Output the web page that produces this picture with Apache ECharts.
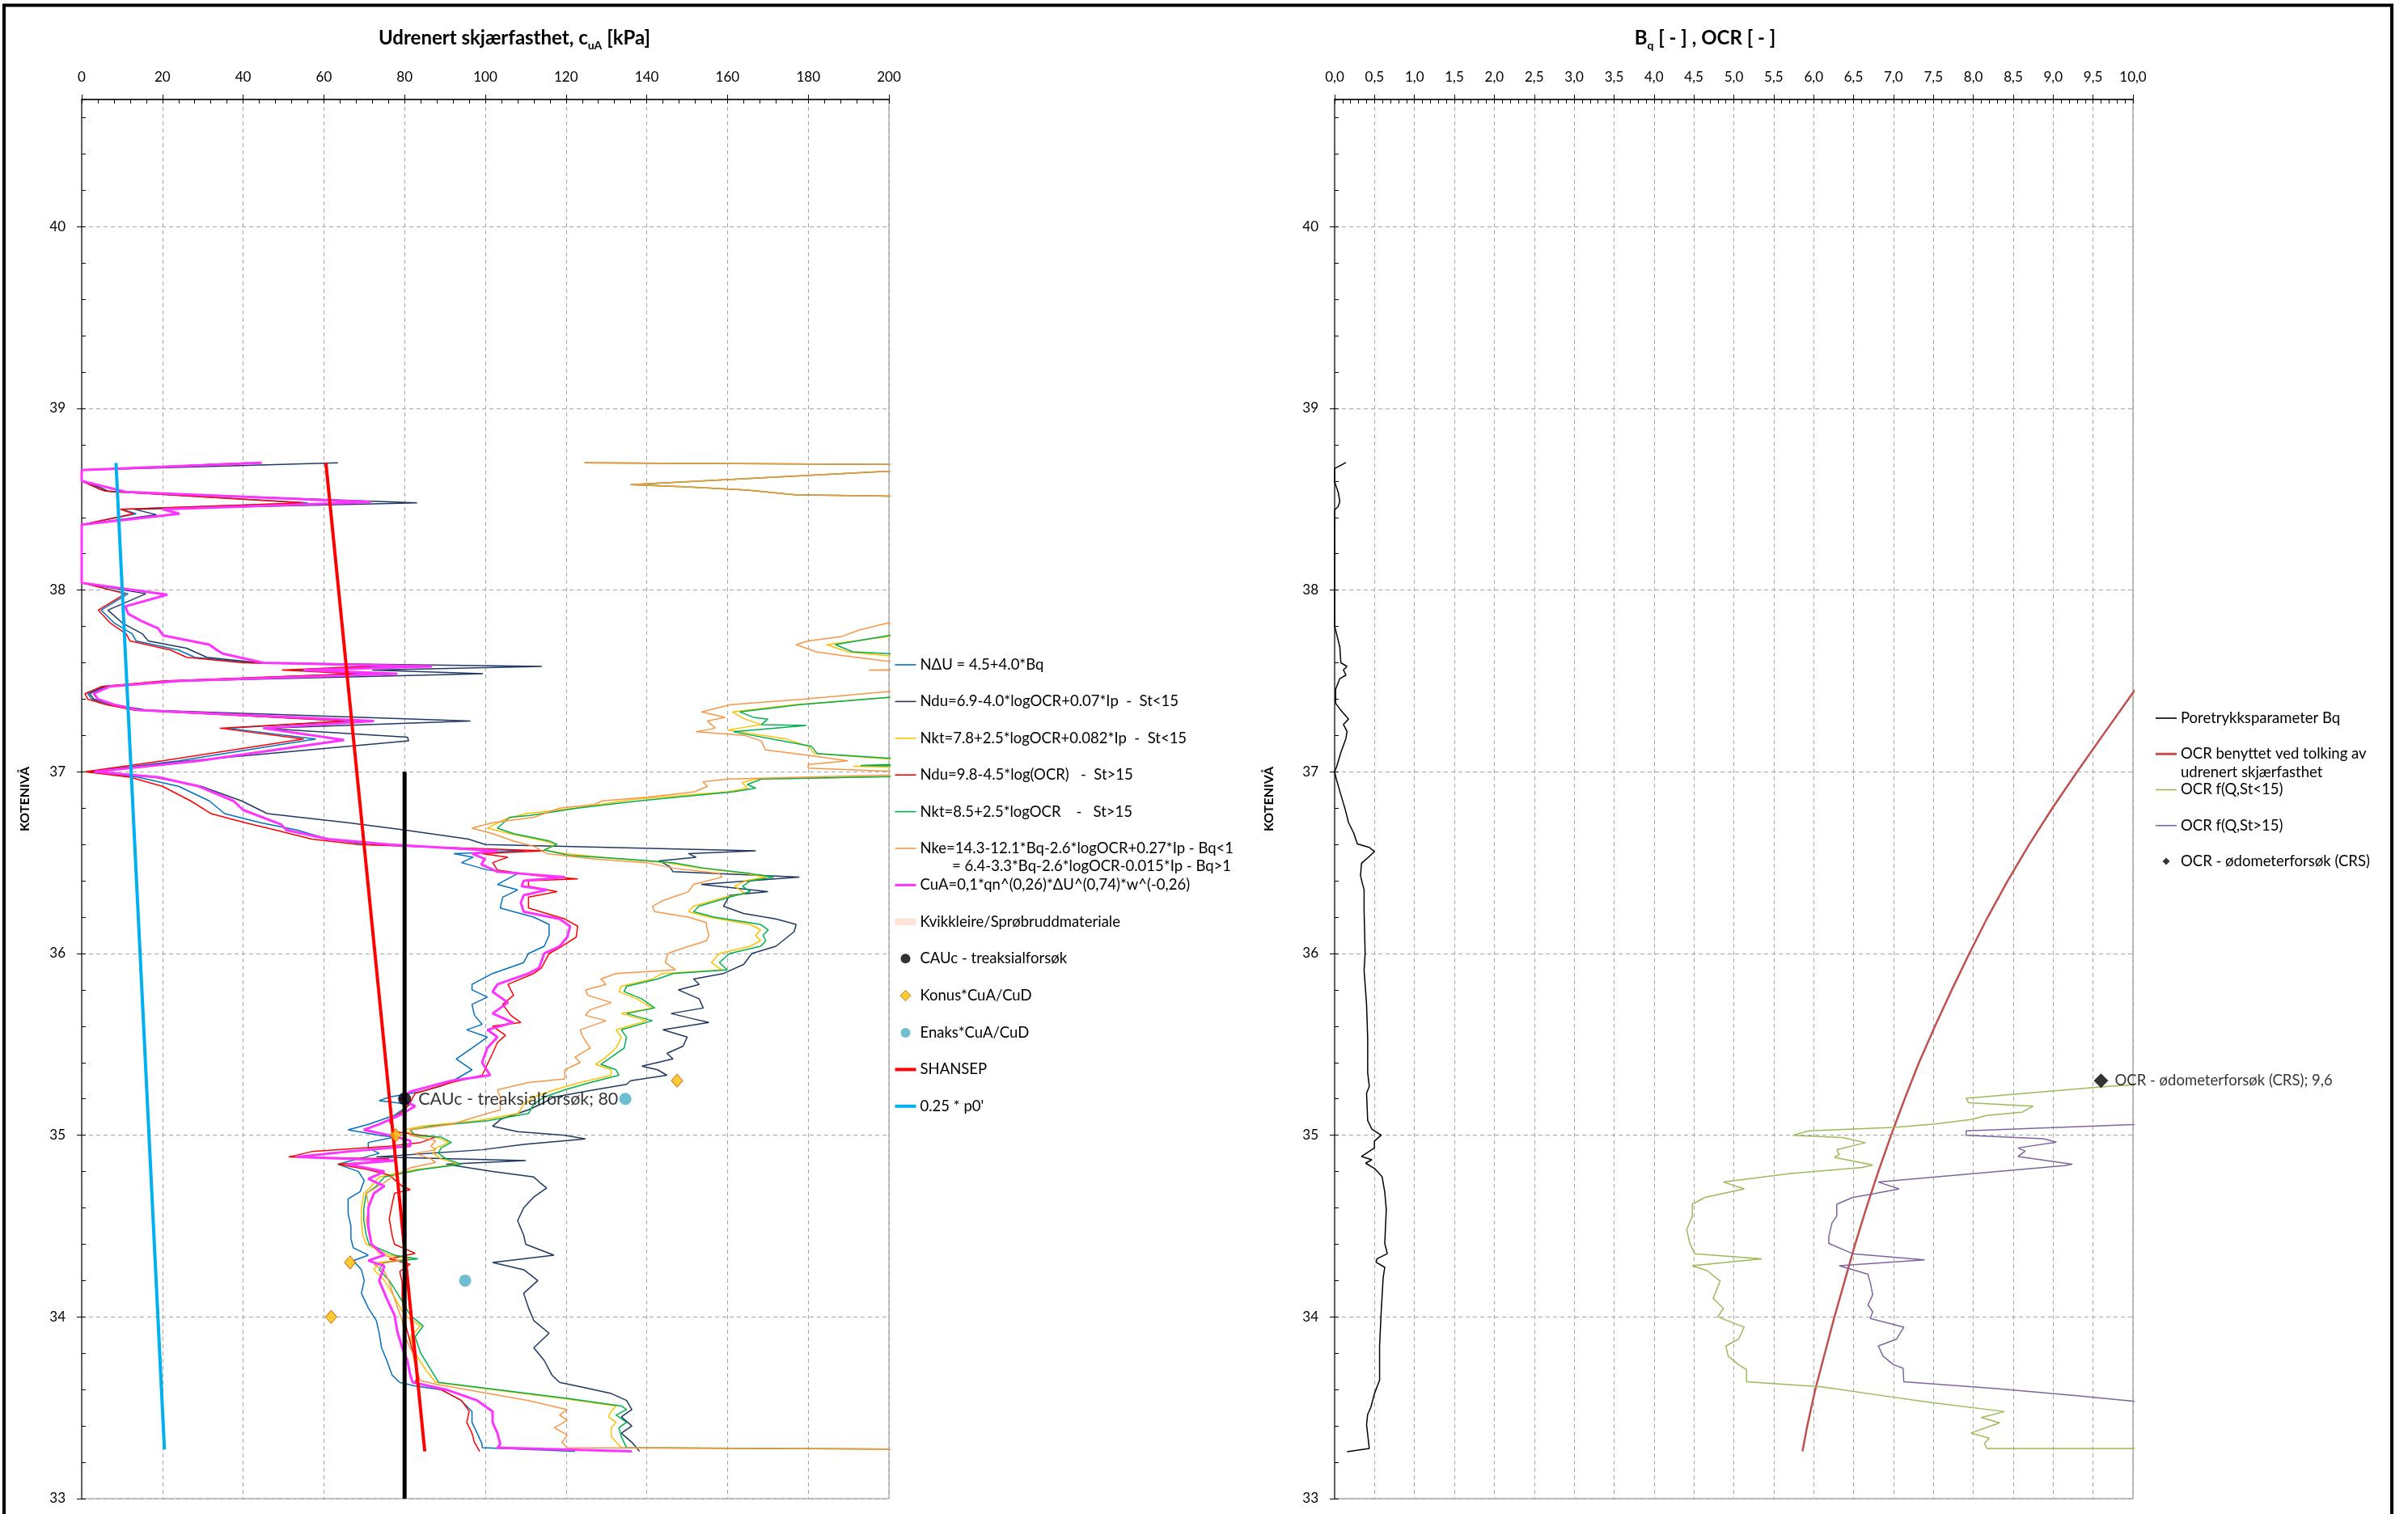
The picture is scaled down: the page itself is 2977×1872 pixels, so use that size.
<!DOCTYPE html>
<html>
<head>
<meta charset="utf-8">
<script src="https://cdn.jsdelivr.net/npm/echarts@6.0.0/dist/echarts.min.js"></script>
<style>
  html, body { margin: 0; padding: 0; background: #fff; }
  #chart { width: 2977px; height: 1872px; }
</style>
</head>
<body>
<div id="chart"></div>
<script>
// ---------- axis ranges ----------
const cuRange = { min: 0, max: 200, step: 20, minorStep: 4 };
const bqRange = { min: 0, max: 10, step: 0.5, minorStep: 0.1 };
const koteRange = { min: 33, max: 40.7, step: 1, minorStep: 0.2 };

// ---------- left panel: undrained shear strength [kPa] vs level ----------
// each point is [cuA, kotenivå]
const nDeltaU = [[43,38.70],[0,38.66],[0,38.60],[4.5,38.555],[6,38.545],[56,38.48],[10,38.445],[13.5,38.42],[0,38.36],[0,38.04],[11.5,37.98],[4.8,37.89],[8,37.82],[12.5,37.76],[13.5,37.72],[24,37.67],[26,37.65],[28,37.63],[42,37.60],[80,37.585],[52,37.56],[69.4,37.54],[22,37.50],[5.5,37.47],[1.5,37.43],[2.5,37.40],[7,37.37],[14,37.34],[66.4,37.28],[36,37.24],[58,37.18],[24,37.06],[1.5,37.0],[14,36.97],[24,36.92],[31.6,36.84],[35.4,36.77],[44.3,36.72],[53.3,36.68],[61,36.63],[71,36.60],[110,36.565],[92.2,36.55],[97,36.53],[94.1,36.50],[100.5,36.46],[108,36.44],[103,36.38],[108,36.35],[104.3,36.31],[103.7,36.25],[112,36.20],[115.8,36.16],[115.8,36.10],[114.6,36.04],[110.7,36.0],[109.5,35.95],[101.8,35.89],[96.7,35.83],[96.7,35.80],[100.5,35.76],[96.7,35.72],[97.3,35.66],[99.2,35.61],[95.4,35.58],[100.5,35.54],[96.7,35.48],[92.8,35.42],[96.7,35.36],[92.8,35.31],[89,35.27],[84,35.24],[76.2,35.21],[73.7,35.19],[81.4,35.17],[77.5,35.11],[71,35.06],[66,35.03],[73.7,35.0],[77.5,34.99],[71,34.96],[71,34.93],[73.7,34.90],[63.5,34.84],[68.6,34.80],[70,34.75],[69,34.69],[66,34.65],[66,34.57],[66.7,34.50],[66.7,34.43],[67.3,34.38],[71,34.34],[67.3,34.31],[69.3,34.26],[70,34.20],[69.3,34.13],[71,34.05],[73,33.98],[73.7,33.91],[74.3,33.83],[75.6,33.76],[76.9,33.68],[78.8,33.64],[82.6,33.62],[89,33.60],[94,33.54],[96.7,33.48],[96.7,33.42],[98,33.36],[99.2,33.30],[99.2,33.28],[122.2,33.26]];

const nduSt15Low = [[63.5,38.70],[0,38.66],[0,38.60],[5,38.56],[6.5,38.545],[9,38.54],[83.1,38.48],[13,38.445],[18.5,38.415],[0,38.36],[0,38.04],[15.9,37.98],[6.5,37.89],[10,37.82],[15,37.76],[16.5,37.72],[26,37.68],[28,37.66],[31,37.63],[44,37.60],[114,37.58],[72,37.56],[99.4,37.54],[25,37.50],[6,37.47],[2,37.43],[3,37.40],[8,37.37],[16,37.34],[96.3,37.28],[45,37.24],[80.7,37.19],[81,37.17],[26.5,37.06],[1.5,37.0],[18,36.97],[29.6,36.92],[39.6,36.84],[46,36.77],[66,36.72],[80,36.68],[95.8,36.63],[100,36.60],[167,36.565],[150.3,36.55],[152.2,36.53],[143,36.51],[145.6,36.48],[146.5,36.45],[177.8,36.42],[153.5,36.38],[170,36.34],[160.5,36.32],[159,36.26],[164,36.22],[172,36.19],[177,36.16],[176.5,36.12],[172,36.04],[166,36.0],[164,35.94],[159,35.89],[151.6,35.86],[153,35.83],[147.8,35.80],[153,35.75],[154,35.70],[146,35.67],[151.6,35.64],[155.4,35.62],[144,35.58],[150,35.54],[149,35.49],[145,35.45],[146.5,35.42],[138.8,35.38],[142.7,35.36],[145,35.33],[136,35.30],[135,35.28],[127,35.25],[117,35.21],[114.6,35.18],[110.7,35.14],[104,35.09],[101.8,35.05],[108,35.02],[119.7,35.0],[124.8,34.98],[109.5,34.95],[99.2,34.92],[73,34.88],[110,34.86],[90.3,34.84],[101.8,34.80],[112,34.77],[113.5,34.74],[115.2,34.71],[112,34.66],[109.5,34.60],[108,34.53],[109.5,34.45],[110,34.40],[117,34.34],[101.8,34.30],[109.5,34.26],[113,34.20],[109.5,34.13],[110.7,34.05],[112,33.98],[115.8,33.91],[112,33.83],[114.6,33.76],[116.5,33.68],[118.4,33.64],[124.8,33.61],[131,33.58],[135,33.54],[136.3,33.49],[133.7,33.45],[136.3,33.40],[133.7,33.36],[136.3,33.31],[138.2,33.26]];

const nktSt15Low = [[124.6,38.70],[215,38.69],[215,38.672],[136,38.58],[150,38.568],[165,38.55],[176.7,38.525],[215,38.512],[320,38.3],[320,37.9],[215,37.76],[200,37.745],[184.6,37.70],[189.8,37.66],[199,37.64],[215,37.63],[320,37.5],[215,37.42],[200,37.41],[176.7,37.37],[161.2,37.33],[164.3,37.29],[168.4,37.26],[160.1,37.23],[174.6,37.18],[180.1,37.14],[181.5,37.10],[200,37.07],[215,37.06],[215,37.04],[191.2,37.03],[215,37.02],[215,36.98],[167,36.96],[163.6,36.94],[165,36.91],[160,36.89],[137.4,36.85],[122.2,36.80],[110,36.77],[105,36.74],[100.5,36.69],[106,36.66],[114.6,36.62],[117.5,36.60],[114.6,36.57],[119.7,36.55],[133.7,36.52],[145,36.50],[152.9,36.47],[164.4,36.44],[169.5,36.42],[164.4,36.40],[161.8,36.37],[164.4,36.33],[159.3,36.31],[151.6,36.26],[150.3,36.23],[155.4,36.20],[165.6,36.16],[168.2,36.13],[167,36.10],[168.2,36.07],[165.6,36.04],[158,36.0],[156,35.95],[158.6,35.91],[143.9,35.89],[141.4,35.86],[133.7,35.82],[133.1,35.79],[137.6,35.75],[141.4,35.70],[133.7,35.67],[140,35.63],[132.4,35.58],[133.7,35.54],[132.4,35.48],[129.9,35.43],[127.3,35.39],[131.2,35.36],[131.2,35.33],[123.5,35.29],[117.1,35.25],[112,35.21],[109.5,35.17],[108.2,35.12],[98,35.08],[84,35.05],[80,35.03],[81.4,35.0],[87.7,34.99],[91,34.96],[87.7,34.93],[87.1,34.90],[89,34.87],[93.5,34.84],[82.6,34.81],[73.7,34.77],[71.8,34.72],[69.9,34.68],[69.3,34.60],[69.3,34.53],[69.6,34.45],[70.5,34.40],[76.2,34.34],[81.4,34.32],[73.7,34.30],[72.4,34.26],[75,34.20],[76.9,34.13],[80,34.01],[83.9,33.95],[81.4,33.89],[82.6,33.80],[85.2,33.71],[87.7,33.64],[101.8,33.60],[119.7,33.55],[132.4,33.51],[131.2,33.48],[130.5,33.45],[132.4,33.42],[131.2,33.39],[131.2,33.34],[133.7,33.28],[230,33.27]];

const nduSt15High = [[41,38.70],[0,38.66],[0,38.60],[4.5,38.555],[6,38.545],[55,38.48],[9.5,38.445],[12.8,38.42],[0,38.36],[0,38.04],[10.8,37.98],[4.1,37.89],[7,37.82],[11,37.76],[12,37.72],[22,37.67],[24,37.65],[26,37.63],[40,37.60],[76,37.585],[49.6,37.56],[67.7,37.54],[20,37.50],[5,37.47],[0.8,37.43],[1.5,37.40],[6,37.37],[13,37.34],[65.4,37.28],[34.2,37.24],[55,37.18],[20,37.06],[0.8,37.0],[12,36.97],[20,36.92],[27,36.84],[32,36.77],[40.5,36.72],[48,36.68],[57,36.63],[68.6,36.60],[114.6,36.565],[99.2,36.55],[105.6,36.53],[101.8,36.50],[103,36.46],[112,36.43],[122.9,36.41],[110.7,36.40],[110.7,36.37],[117.8,36.34],[110.7,36.31],[110.7,36.25],[119.7,36.19],[122.9,36.15],[122.5,36.09],[119,36.04],[115.8,36.0],[113.9,35.92],[112,35.89],[105.6,35.83],[107,35.77],[104.3,35.72],[106.3,35.66],[108.8,35.62],[101.8,35.60],[105,35.55],[103,35.51],[101.8,35.45],[100.5,35.39],[99.2,35.33],[91.6,35.29],[82.6,35.23],[81.4,35.18],[80,35.14],[76.2,35.08],[77.5,35.02],[87.7,34.99],[84,34.96],[76.2,34.94],[57,34.91],[51.3,34.88],[76.2,34.87],[71,34.85],[63.5,34.84],[71,34.81],[76.2,34.78],[79.4,34.72],[81.4,34.70],[77.5,34.68],[76.9,34.62],[76.2,34.54],[76.9,34.45],[77.5,34.40],[82.6,34.35],[76.2,34.32],[81.4,34.29],[78.8,34.25],[79.4,34.19],[79.4,34.10],[80,33.98],[81.4,33.86],[82.6,33.76],[83.3,33.68],[82.6,33.64],[89,33.60],[94.1,33.54],[96,33.48],[95.4,33.42],[96.7,33.36],[97.3,33.31],[98.6,33.26]];

const nktSt15High = [[124.6,38.70],[215,38.69],[215,38.672],[136,38.58],[150,38.568],[165,38.55],[176.7,38.525],[215,38.512],[320,38.3],[320,37.9],[215,37.76],[200,37.75],[186.7,37.70],[191,37.66],[200,37.65],[215,37.64],[320,37.5],[215,37.42],[200,37.41],[178,37.37],[163,37.33],[166.4,37.30],[170,37.29],[168.4,37.26],[179.5,37.255],[161.5,37.22],[175.9,37.16],[180.8,37.14],[182.2,37.10],[200,37.075],[215,37.07],[215,37.05],[193,37.035],[215,37.03],[215,36.98],[168.4,36.96],[164.9,36.93],[167,36.91],[161.5,36.89],[138,36.84],[122.8,36.80],[111,36.76],[106,36.75],[103,36.69],[107,36.66],[115.8,36.62],[117.8,36.60],[114.6,36.57],[120.9,36.54],[135,36.52],[146.5,36.50],[154.2,36.47],[165.7,36.44],[171.4,36.42],[165.7,36.40],[163.7,36.37],[165.7,36.34],[160.5,36.31],[152.9,36.26],[151.6,36.23],[156.7,36.20],[168.2,36.16],[170.1,36.13],[168.8,36.10],[169.5,36.07],[168.2,36.04],[160.5,36.0],[158,35.95],[159.9,35.91],[146.5,35.89],[142.7,35.86],[135,35.82],[134.4,35.79],[138.8,35.75],[142,35.70],[135,35.67],[141.4,35.63],[133.7,35.58],[135,35.54],[134.4,35.48],[131.2,35.43],[128.6,35.39],[132.4,35.36],[133.1,35.33],[126,35.29],[119.7,35.25],[114.6,35.21],[112,35.17],[110.7,35.12],[100.5,35.08],[86.5,35.05],[81.4,35.03],[82.6,35.0],[89,34.99],[91.6,34.96],[89,34.93],[88.4,34.90],[90.3,34.87],[94.1,34.84],[83.9,34.81],[75,34.77],[73,34.72],[70.5,34.68],[69.9,34.60],[69.9,34.53],[70.5,34.45],[71.2,34.40],[77.5,34.34],[83.3,34.32],[75,34.30],[73.7,34.26],[76.2,34.20],[78.2,34.13],[81.4,34.01],[84.6,33.95],[82.6,33.89],[84,33.80],[86.5,33.71],[88.4,33.64],[103,33.60],[121,33.55],[133.7,33.51],[135,33.49],[132.4,33.46],[135,33.42],[133.1,33.39],[133.7,33.34],[135,33.28],[230,33.27]];

const nke = [[124.6,38.70],[215,38.69],[215,38.672],[136,38.58],[150,38.568],[165,38.55],[176.7,38.525],[215,38.512],[320,38.3],[320,37.9],[215,37.83],[200,37.82],[192.6,37.78],[188.4,37.745],[180,37.72],[177,37.70],[182,37.66],[188.4,37.64],[199,37.61],[215,37.60],[215,37.565],[195,37.56],[215,37.555],[320,37.5],[215,37.445],[198.8,37.44],[178.8,37.40],[160.8,37.37],[153.6,37.33],[159.4,37.30],[155,37.28],[157,37.24],[152.2,37.22],[164.3,37.20],[168.4,37.17],[169.4,37.12],[180.1,37.09],[189.8,37.06],[180,37.04],[180,37.02],[215,36.99],[215,36.985],[160.1,36.96],[153.9,36.945],[155,36.92],[151.9,36.89],[140.1,36.86],[129,36.84],[127,36.82],[118.4,36.80],[112,36.75],[101.8,36.72],[96.7,36.69],[101.8,36.66],[106.9,36.62],[112,36.59],[115.2,36.55],[127.3,36.52],[140,36.50],[146.5,36.47],[158,36.44],[158.6,36.42],[151.6,36.38],[150.3,36.34],[143.9,36.29],[141.4,36.26],[142,36.23],[150.3,36.20],[154.8,36.17],[154.8,36.15],[155.4,36.10],[154.8,36.07],[149,36.03],[145.2,36.0],[144.6,35.95],[147.1,35.91],[132.4,35.89],[128.6,35.86],[129.9,35.83],[124.8,35.80],[125.4,35.77],[131.2,35.73],[126,35.69],[124.8,35.66],[129.9,35.63],[123.5,35.58],[124.2,35.54],[126,35.48],[122.2,35.43],[123.5,35.40],[119.7,35.36],[119.7,35.31],[110.7,35.29],[103,35.25],[103.7,35.21],[103.7,35.14],[100.5,35.12],[91.6,35.06],[81.4,35.03],[81.4,35.0],[87.7,34.97],[86.5,34.94],[87.7,34.92],[82.6,34.90],[86.5,34.87],[87.7,34.85],[81.4,34.82],[77.5,34.78],[75,34.74],[70.5,34.68],[71.2,34.60],[70.5,34.53],[71.2,34.45],[71.8,34.40],[73.7,34.35],[78.8,34.31],[72.4,34.29],[75,34.25],[76.2,34.19],[77.5,34.10],[79.4,33.98],[80.1,33.89],[82,33.80],[82.6,33.73],[83.9,33.65],[87.7,33.63],[100.5,33.58],[110.7,33.54],[120.3,33.49],[118.4,33.46],[120.3,33.43],[117.1,33.39],[120.3,33.35],[119,33.31],[120.3,33.28],[230,33.27]];

const cuaDeltaU = [[44.6,38.70],[0,38.66],[0,38.60],[11,38.54],[71.7,38.485],[20,38.445],[24.2,38.42],[0,38.36],[0,38.04],[21.2,37.975],[10.8,37.91],[11.5,37.87],[14.8,37.83],[18.9,37.79],[20.2,37.75],[31.6,37.70],[33.5,37.67],[35,37.65],[45,37.60],[86.8,37.58],[55,37.56],[78.2,37.54],[24,37.50],[7,37.47],[3,37.43],[4,37.40],[8,37.37],[14,37.34],[72.4,37.28],[45,37.24],[65,37.175],[29,37.06],[3.1,37.0],[19,36.97],[29,36.92],[37.6,36.84],[40,36.79],[49.4,36.71],[50.7,36.68],[61,36.63],[76.2,36.60],[103,36.565],[96.7,36.55],[99.9,36.52],[99,36.49],[103,36.45],[119.7,36.42],[109.5,36.40],[109,36.37],[115.2,36.35],[109.5,36.32],[108.8,36.28],[109.5,36.23],[118.4,36.19],[121,36.15],[120.3,36.09],[118.4,36.04],[114.6,36.0],[113.3,35.92],[110.7,35.89],[103,35.83],[101.8,35.79],[105.6,35.73],[101.8,35.67],[106.9,35.62],[100.5,35.58],[103,35.54],[100.5,35.48],[99.2,35.40],[101.2,35.33],[91.6,35.30],[86.5,35.27],[81.4,35.24],[78.8,35.20],[82.6,35.16],[78.8,35.11],[73.7,35.06],[69.9,35.03],[76.2,35.0],[81.4,34.97],[81.4,34.94],[66,34.91],[53.3,34.88],[66,34.87],[77.5,34.86],[66,34.84],[75,34.80],[71,34.76],[75,34.72],[72.4,34.68],[71,34.60],[71,34.50],[71.8,34.40],[75,34.34],[71,34.31],[75,34.28],[73.7,34.20],[75.6,34.10],[77.5,34.01],[78.2,33.92],[79.4,33.83],[80.7,33.76],[81.4,33.68],[82,33.64],[90.3,33.60],[98,33.54],[101.8,33.48],[101.8,33.42],[103,33.36],[103.7,33.30],[103,33.28],[136.3,33.26]];

const cauc = [[80, 35.2]];                       // triaxial test
const caucLevels = [[80, 37.0], [80, 33.0]];     // interval the CAUc value is used over
const konus = [[147.5,35.3],[77.8,35.0],[66.5,34.3],[61.8,34.0]];
const enaks = [[134.7,35.2],[95,34.2]];
const shansep = [[60.5,38.70],[85,33.26]];
const p0quarter = [[8.5,38.70],[20.5,33.27]];

// ---------- right panel: Bq and OCR vs level ----------
const bq = [[0.142,38.702],[0,38.669],[0,38.596],[0.045,38.538],[0.065,38.489],[0.045,38.46],[0,38.441],[0,37.803],[0.065,37.687],[0.078,37.60],[0.155,37.58],[0.11,37.561],[0.142,37.532],[0.065,37.513],[0.013,37.455],[0.013,37.377],[0.078,37.338],[0.175,37.29],[0.11,37.261],[0.155,37.222],[0.142,37.184],[0.078,37.106],[0.026,37.029],[0,37.0],[0.026,36.952],[0.078,36.874],[0.13,36.797],[0.175,36.72],[0.24,36.662],[0.285,36.603],[0.434,36.584],[0.498,36.561],[0.414,36.526],[0.337,36.497],[0.324,36.429],[0.35,36.381],[0.369,36.352],[0.369,36.236],[0.382,36.0],[0.369,35.908],[0.40,35.72],[0.414,35.532],[0.414,35.344],[0.434,35.269],[0.40,35.231],[0.414,35.081],[0.466,35.034],[0.583,35.0],[0.498,34.968],[0.498,34.93],[0.337,34.883],[0.466,34.865],[0.388,34.846],[0.498,34.818],[0.595,34.771],[0.628,34.686],[0.647,34.592],[0.628,34.404],[0.66,34.348],[0.531,34.32],[0.518,34.301],[0.628,34.273],[0.608,34.216],[0.583,34.028],[0.563,33.84],[0.563,33.652],[0.498,33.577],[0.453,33.502],[0.414,33.464],[0.40,33.408],[0.434,33.276],[0.155,33.258]];

const ocrUsed = [[10.6,37.80],[10.0,37.435],[9.62,37.2],[9.30,37.0],[8.99,36.8],[8.70,36.6],[8.43,36.4],[8.18,36.2],[7.95,36.0],[7.73,35.8],[7.52,35.6],[7.32,35.4],[7.14,35.2],[6.97,35.0],[6.81,34.8],[6.66,34.6],[6.52,34.4],[6.39,34.2],[6.26,34.0],[6.14,33.8],[6.02,33.6],[5.92,33.4],[5.86,33.26]];

const ocrStLow = [[11.5,35.30],[10.0,35.278],[9.59,35.265],[7.91,35.203],[7.94,35.179],[8.75,35.16],[8.62,35.128],[8.17,35.109],[7.97,35.086],[7.52,35.062],[7.0,35.043],[5.94,35.024],[5.74,35.0],[6.36,34.987],[6.65,34.959],[6.29,34.921],[6.32,34.893],[6.26,34.878],[6.74,34.836],[6.61,34.823],[5.71,34.789],[4.87,34.742],[5.13,34.705],[4.64,34.658],[4.48,34.62],[4.48,34.555],[4.41,34.48],[4.45,34.404],[4.51,34.348],[5.35,34.32],[4.48,34.282],[4.67,34.254],[4.83,34.197],[4.74,34.103],[4.87,34.047],[4.80,34.0],[5.13,33.944],[5.06,33.878],[4.90,33.84],[4.93,33.784],[5.06,33.737],[5.16,33.709],[5.16,33.643],[6.10,33.615],[7.0,33.558],[7.46,33.53],[8.39,33.479],[8.10,33.446],[8.33,33.417],[7.97,33.361],[8.20,33.333],[8.14,33.304],[8.17,33.276],[11,33.276]];

const ocrStHigh = [[11,35.08],[10.0,35.058],[7.91,35.024],[7.91,35.0],[8.88,34.981],[9.04,34.962],[8.56,34.93],[8.65,34.912],[8.56,34.883],[9.24,34.84],[9.14,34.833],[6.81,34.742],[7.07,34.705],[6.74,34.677],[6.49,34.658],[6.29,34.62],[6.29,34.555],[6.23,34.517],[6.19,34.442],[6.19,34.404],[6.49,34.348],[7.39,34.314],[6.32,34.282],[6.68,34.235],[6.71,34.188],[6.74,34.122],[6.68,34.066],[6.74,34.028],[6.71,33.991],[7.13,33.944],[7.04,33.878],[6.81,33.84],[6.87,33.784],[7.0,33.737],[7.12,33.718],[7.13,33.643],[8.30,33.605],[9.27,33.568],[10.0,33.536],[10.6,33.52]];

const ocrCrs = [[9.6, 35.3]];

// ---------- names ----------
const NAMES = {
  ndu: 'NΔU = 4.5+4.0*Bq',
  nduLow: 'Ndu=6.9-4.0*logOCR+0.07*Ip  -  St<15',
  nktLow: 'Nkt=7.8+2.5*logOCR+0.082*Ip  -  St<15',
  nduHigh: 'Ndu=9.8-4.5*log(OCR)   -  St>15',
  nktHigh: 'Nkt=8.5+2.5*logOCR    -   St>15',
  nke: 'Nke=14.3-12.1*Bq-2.6*logOCR+0.27*Ip - Bq<1\n= 6.4-3.3*Bq-2.6*logOCR-0.015*Ip - Bq>1',
  cua: 'CuA=0,1*qn^(0,26)*ΔU^(0,74)*w^(-0,26)',
  kvikk: 'Kvikkleire/Sprøbruddmateriale',
  cauc: 'CAUc - treaksialforsøk',
  caucLine: 'CAUc-nivå',
  konus: 'Konus*CuA/CuD',
  enaks: 'Enaks*CuA/CuD',
  shansep: 'SHANSEP',
  p0: "0.25 * p0'",
  bq: 'Poretrykksparameter Bq',
  ocr: 'OCR benyttet ved tolking av\nudrenert skjærfasthet',
  ocrLow: 'OCR f(Q,St<15)',
  ocrHigh: 'OCR f(Q,St>15)',
  crs: 'OCR - ødometerforsøk (CRS)'
};

const COLORS = {
  ndu: '#0070C0', nduLow: '#1F3864', nktLow: '#FFC000', nduHigh: '#FF0000',
  nktHigh: '#00B050', nke: '#F79646', cua: '#FF33FF', kvikk: '#FBE4D5',
  cauc: '#000000', konus: '#FFC000', konusEdge: '#C55A11', enaks: '#4BACC6',
  shansep: '#FF0000', p0: '#00B0F0',
  bq: '#000000', ocr: '#C0504D', ocrLow: '#9BBB59', ocrHigh: '#8064A2', crs: '#000000'
};

const FONT = 'Lato, "Liberation Sans", "DejaVu Sans", sans-serif';
const GRID_LINE = { type: [5, 4], color: '#a6a6a6', width: 1 };

// ---------- layout ----------
const PLOT_TOP = 123, PLOT_H = 1730;
const LEFT_PLOT = { left: 101, width: 998 };
const RIGHT_PLOT = { left: 1650, width: 987 };

function curve(key, data, width, axis, extra) {
  return Object.assign({
    type: 'line', name: NAMES[key], data,
    xAxisIndex: axis, yAxisIndex: axis,
    symbol: 'none', showSymbol: false, clip: true, silent: true,
    lineStyle: { color: COLORS[key], width },
    itemStyle: { color: COLORS[key] },
    emphasis: { disabled: true }
  }, extra || {});
}

function mainX(gridIndex, r, fmt) {
  return {
    gridIndex, type: 'value', position: 'top', min: r.min, max: r.max, interval: r.step,
    axisLine: { show: true, onZero: false, lineStyle: { color: '#000', width: 1.5 } },
    axisTick: { show: true, inside: false, length: 6, lineStyle: { color: '#000', width: 1 } },
    axisLabel: { show: true, margin: 19, fontSize: 17, color: '#000', fontFamily: FONT, formatter: fmt },
    splitLine: { show: true, lineStyle: GRID_LINE }
  };
}
function minorX(gridIndex, r) {
  return {
    gridIndex, type: 'value', position: 'top', min: r.min, max: r.max, interval: r.minorStep,
    axisLine: { show: false }, axisLabel: { show: false }, splitLine: { show: false },
    axisTick: { show: true, inside: true, length: 5, lineStyle: { color: '#000', width: 1 } }
  };
}
function mainY(gridIndex, gap) {
  return {
    gridIndex, type: 'value', position: 'left', min: koteRange.min, max: koteRange.max, interval: koteRange.step,
    name: 'KOTENIVÅ', nameLocation: 'middle', nameGap: gap, nameRotate: 90, nameMoveOverlap: false,
    nameTextStyle: { fontFamily: FONT, fontSize: 16, fontWeight: 'bold', color: '#000' },
    axisLine: { show: true, onZero: false, lineStyle: { color: '#404040', width: 1.5 } },
    axisTick: { show: true, inside: false, length: 6, lineStyle: { color: '#000', width: 1 } },
    axisLabel: { show: true, margin: 20, fontSize: 17, color: '#000', fontFamily: FONT, showMaxLabel: false },
    splitLine: { show: true, lineStyle: GRID_LINE }
  };
}
function minorY(gridIndex) {
  return {
    gridIndex, type: 'value', position: 'left', min: koteRange.min, max: koteRange.max, interval: koteRange.minorStep,
    axisLine: { show: false }, axisLabel: { show: false }, splitLine: { show: false },
    axisTick: { show: true, inside: true, length: 5, lineStyle: { color: '#000', width: 1 } }
  };
}

const commaFmt = v => v.toFixed(1).replace('.', ',');

// legend icons (26 x 20 box)
const ICON = {
  thin: 'path://M0,0h26v1.6h-26z',
  mid: 'path://M0,0h26v3h-26z',
  thick: 'path://M0,0h26v4h-26z',
  band: 'path://M0,0h26v9h-26z',
  dot: 'path://M0,0M26,20M7,10a6,6 0 1,0 12,0a6,6 0 1,0 -12,0z',
  diamond: 'path://M0,0M26,20M13,3.5L19.5,10L13,16.5L6.5,10z',
  smallDiamond: 'path://M0,0M26,20M13,5.5L17.5,10L13,14.5L8.5,10z'
};
function legendItem(key, icon, extraStyle) {
  return { name: NAMES[key], icon, itemStyle: Object.assign({ color: COLORS[key], borderWidth: 0 }, extraStyle || {}) };
}
const firstLine = s => s.split('\n')[0];
const secondLine = s => s.split('\n')[1] || '';

const LEFT_LEGEND = { left: 1106, top: 812, step: 45.4 };
const RIGHT_LEGEND = { left: 2665, top: 878, step: 44.25 };
const LEGEND_FONT = 18.5;
const LEGEND_TEXT = { fontFamily: FONT, fontSize: LEGEND_FONT, color: '#000', lineHeight: 20 };

const option = {
  backgroundColor: '#ffffff',
  animation: false,
  textStyle: { fontFamily: FONT },
  grid: [
    { left: LEFT_PLOT.left, top: PLOT_TOP, width: LEFT_PLOT.width, height: PLOT_H, show: true,
      borderColor: '#8c8c8c', borderWidth: 1, backgroundColor: 'transparent', containLabel: false, outerBoundsMode: 'none' },
    { left: RIGHT_PLOT.left, top: PLOT_TOP, width: RIGHT_PLOT.width, height: PLOT_H, show: true,
      borderColor: '#7f7f7f', borderWidth: 1, backgroundColor: 'transparent', containLabel: false, outerBoundsMode: 'none' }
  ],
  xAxis: [ mainX(0, cuRange), minorX(0, cuRange), mainX(1, bqRange, commaFmt), minorX(1, bqRange) ],
  yAxis: [ mainY(0, 62), minorY(0), mainY(1, 73), minorY(1) ],
  legend: [
    {
      orient: 'vertical', left: LEFT_LEGEND.left, top: LEFT_LEGEND.top, padding: 0,
      itemWidth: 26, itemHeight: 20, itemGap: LEFT_LEGEND.step - 20, symbolKeepAspect: true,
      selectedMode: false, textStyle: LEGEND_TEXT, formatter: firstLine,
      itemStyle: { borderWidth: 0 },
      data: [
        legendItem('ndu', ICON.thin), legendItem('nduLow', ICON.thin), legendItem('nktLow', ICON.thin),
        legendItem('nduHigh', ICON.thin), legendItem('nktHigh', ICON.thin), legendItem('nke', ICON.thin),
        legendItem('cua', ICON.mid), legendItem('kvikk', ICON.band), legendItem('cauc', ICON.dot),
        legendItem('konus', ICON.diamond, { borderWidth: 1, borderColor: COLORS.konusEdge }),
        legendItem('enaks', ICON.dot), legendItem('shansep', ICON.thick), legendItem('p0', ICON.thick)
      ]
    },
    {
      orient: 'vertical', left: RIGHT_LEGEND.left, top: RIGHT_LEGEND.top, padding: 0,
      itemWidth: 26, itemHeight: 20, itemGap: RIGHT_LEGEND.step - 20, symbolKeepAspect: true,
      selectedMode: false, textStyle: LEGEND_TEXT, formatter: firstLine,
      itemStyle: { borderWidth: 0 },
      data: [
        legendItem('bq', ICON.thin), legendItem('ocr', ICON.mid), legendItem('ocrLow', ICON.thin),
        legendItem('ocrHigh', ICON.thin), legendItem('crs', ICON.smallDiamond)
      ]
    }
  ],
  graphic: [
    // panel titles
    { type: 'text', x: 636, y: 47, silent: true,
      style: { text: '{b|Udrenert skjærfasthet, c}{s|uA}{b| [kPa]}', align: 'center', verticalAlign: 'middle',
        rich: { b: { fontFamily: FONT, fontSize: 24, fontWeight: 'bold', fill: '#000', lineHeight: 32, verticalAlign: 'middle' },
                s: { fontFamily: FONT, fontSize: 14, fontWeight: 'bold', fill: '#000', lineHeight: 17, verticalAlign: 'bottom' } } } },
    { type: 'text', x: 2108, y: 47, silent: true,
      style: { text: '{b|B}{s|q}{b| [ - ] , OCR [ - ]}', align: 'center', verticalAlign: 'middle',
        rich: { b: { fontFamily: FONT, fontSize: 24, fontWeight: 'bold', fill: '#000', lineHeight: 32, verticalAlign: 'middle' },
                s: { fontFamily: FONT, fontSize: 14, fontWeight: 'bold', fill: '#000', lineHeight: 17, verticalAlign: 'bottom' } } } },
    // continuation lines of two-line legend entries
    { type: 'text', x: LEFT_LEGEND.left + 71, y: LEFT_LEGEND.top + 10 + 5 * LEFT_LEGEND.step + 22, silent: true,
      style: { text: secondLine(NAMES.nke), fontFamily: FONT, fontSize: LEGEND_FONT, fill: '#000', verticalAlign: 'middle' } },
    { type: 'text', x: RIGHT_LEGEND.left + 31, y: RIGHT_LEGEND.top + 10 + RIGHT_LEGEND.step + 23, silent: true,
      style: { text: secondLine(NAMES.ocr), fontFamily: FONT, fontSize: LEGEND_FONT, fill: '#000', verticalAlign: 'middle' } },
    // page frame
    { type: 'rect', silent: true, z: 100,
      shape: { x: 5, y: 6.5, width: 2952, height: 1920 },
      style: { fill: 'none', stroke: '#000', lineWidth: 4 } }
  ],
  series: [
    curve('ndu', nDeltaU, 1.5, 0),
    curve('nduLow', nduSt15Low, 1.5, 0),
    curve('nktLow', nktSt15Low, 1.5, 0),
    curve('nduHigh', nduSt15High, 1.5, 0),
    curve('nktHigh', nktSt15High, 1.5, 0),
    curve('nke', nke, 1.5, 0),
    curve('cua', cuaDeltaU, 3, 0),
    curve('kvikk', [], 1, 0),
    curve('shansep', shansep, 4, 0),
    curve('p0', p0quarter, 4, 0),
    { type: 'line', name: NAMES.caucLine, data: caucLevels, xAxisIndex: 0, yAxisIndex: 0, symbol: 'none',
      silent: true, lineStyle: { color: '#000', width: 5 }, itemStyle: { color: '#000' }, z: 3 },
    { type: 'scatter', name: NAMES.cauc, data: cauc, xAxisIndex: 0, yAxisIndex: 0, symbol: 'circle', symbolSize: 16,
      itemStyle: { color: COLORS.cauc }, silent: true, z: 4,
      label: { show: true, position: 'right', distance: 9, fontFamily: FONT, fontSize: 21.5, color: '#000',
        formatter: p => p.seriesName + '; ' + p.value[0] } },
    { type: 'scatter', name: NAMES.konus, data: konus, xAxisIndex: 0, yAxisIndex: 0, symbol: 'diamond', symbolSize: [14, 16],
      itemStyle: { color: COLORS.konus, borderColor: COLORS.konusEdge, borderWidth: 1 }, silent: true, z: 4 },
    { type: 'scatter', name: NAMES.enaks, data: enaks, xAxisIndex: 0, yAxisIndex: 0, symbol: 'circle', symbolSize: 15,
      itemStyle: { color: COLORS.enaks }, silent: true, z: 4 },

    curve('bq', bq, 1.5, 2),
    curve('ocr', ocrUsed, 2.5, 2),
    curve('ocrLow', ocrStLow, 1.5, 2),
    curve('ocrHigh', ocrStHigh, 1.5, 2),
    { type: 'scatter', name: NAMES.crs, data: ocrCrs, xAxisIndex: 2, yAxisIndex: 2, symbol: 'diamond', symbolSize: 18,
      itemStyle: { color: COLORS.crs }, silent: true, z: 4,
      label: { show: true, position: 'right', distance: 8, fontFamily: FONT, fontSize: 18.5, color: '#000',
        formatter: p => p.seriesName + '; ' + commaFmt(p.value[0]) } }
  ]
};

const chart = echarts.init(document.getElementById('chart'), null, { renderer: 'canvas', width: 2977, height: 1872 });
chart.setOption(option);
</script>
</body>
</html>
